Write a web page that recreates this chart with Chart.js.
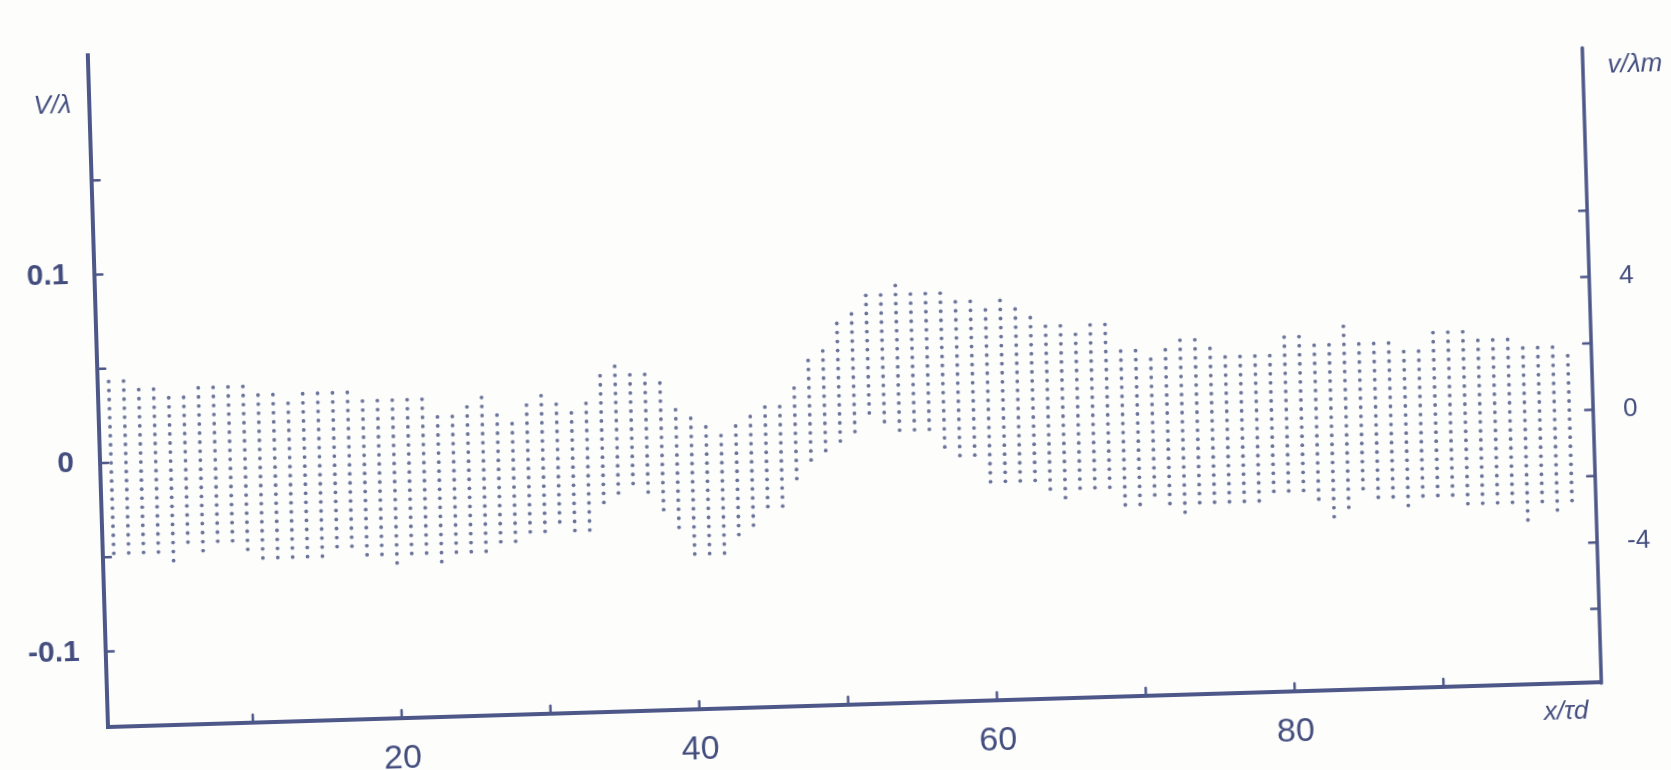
<!DOCTYPE html>
<html>
<head>
<meta charset="utf-8">
<script src="https://cdn.jsdelivr.net/npm/chart.js@4/dist/chart.umd.min.js"></script>
<style>
  html, body { margin: 0; padding: 0; width: 1671px; height: 770px; overflow: hidden; background: #fdfdfc; }
  #frame { position: absolute; left: 0; top: 0; width: 1720px; height: 800px;
           transform-origin: 108px 727px; transform: rotate(-1.72deg); }
  canvas { display: block; }
</style>
</head>
<body>
<div id="frame"><canvas id="chart" width="1720" height="800" style="width:1720px;height:800px"></canvas></div>
<script>
// Column positions along x/τd
const xPositions = [
  1, 2, 3, 4, 5, 6, 7, 8, 9, 10, 11, 12, 13, 14, 15, 16, 17, 18, 19, 20,
  21, 22, 23, 24, 25, 26, 27, 28, 29, 30, 31, 32, 33, 34, 35, 36, 37, 38, 39, 40,
  41, 42, 43, 44, 45, 46, 47, 48, 49, 50, 51, 52, 53, 54, 55, 56, 57, 58, 59, 60,
  61, 62, 63, 64, 65, 66, 67, 68, 69, 70, 71, 72, 73, 74, 75, 76, 77, 78, 79, 80,
  81, 82, 83, 84, 85, 86, 87, 88, 89, 90, 91, 92, 93, 94, 95, 96, 97, 98, 99
];

// Upper edge of the dotted band (V/λ)
const bandTop = [
  0.045, 0.044, 0.039, 0.039, 0.035, 0.035, 0.040, 0.040, 0.040, 0.040,
  0.035, 0.035, 0.031, 0.035, 0.035, 0.035, 0.035, 0.031, 0.030, 0.030,
  0.030, 0.030, 0.021, 0.021, 0.026, 0.030, 0.020, 0.016, 0.026, 0.030,
  0.025, 0.021, 0.026, 0.040, 0.045, 0.040, 0.039, 0.035, 0.020, 0.016,
  0.011, 0.006, 0.011, 0.015, 0.020, 0.020, 0.029, 0.044, 0.049, 0.063,
  0.068, 0.078, 0.078, 0.082, 0.078, 0.077, 0.077, 0.072, 0.072, 0.067,
  0.073, 0.068, 0.063, 0.058, 0.058, 0.053, 0.059, 0.058, 0.044, 0.044,
  0.039, 0.043, 0.049, 0.049, 0.044, 0.039, 0.039, 0.039, 0.039, 0.049,
  0.049, 0.044, 0.044, 0.054, 0.044, 0.044, 0.044, 0.039, 0.039, 0.049,
  0.049, 0.049, 0.044, 0.044, 0.044, 0.039, 0.039, 0.039, 0.035
];

// Lower edge of the dotted band (V/λ)
const bandBottom = [
  -0.047, -0.047, -0.048, -0.048, -0.052, -0.044, -0.047, -0.043, -0.045, -0.047,
  -0.052, -0.052, -0.053, -0.053, -0.051, -0.047, -0.047, -0.052, -0.052, -0.056,
  -0.052, -0.052, -0.057, -0.053, -0.053, -0.052, -0.047, -0.047, -0.042, -0.042,
  -0.037, -0.042, -0.042, -0.028, -0.023, -0.019, -0.023, -0.032, -0.042, -0.056,
  -0.056, -0.056, -0.047, -0.042, -0.032, -0.032, -0.017, -0.008, -0.004, 0.001,
  0.007, 0.015, 0.011, 0.006, 0.006, 0.005, -0.004, -0.008, -0.009, -0.023,
  -0.023, -0.024, -0.024, -0.028, -0.032, -0.028, -0.027, -0.028, -0.038, -0.038,
  -0.033, -0.037, -0.044, -0.037, -0.037, -0.037, -0.039, -0.037, -0.033, -0.033,
  -0.033, -0.037, -0.046, -0.042, -0.036, -0.037, -0.037, -0.042, -0.037, -0.037,
  -0.037, -0.042, -0.042, -0.042, -0.042, -0.052, -0.042, -0.047, -0.043
];

// Vertical spacing of the dot rows (V/λ)
const dotStep = 0.0048;

// Axis ticks and their labels
const xTicks = [10, 20, 30, 40, 50, 60, 70, 80, 90];
const xTickLabels = ['', '20', '', '40', '', '60', '', '80', ''];
const leftTicks = [-0.1, -0.05, 0, 0.05, 0.1, 0.15];
const leftTickLabels = ['-0.1', '', '0', '', '0.1', ''];
const rightTicks = [-6, -4, -2, 0, 2, 4, 6];
const rightTickLabels = ['', '-4', '', '0', '', '4', ''];

// Axis extents
const xRange = [0.26, 100.6];
const leftRange = [-0.14, 0.2165];
const rightRange = [-8.21, 12.03];
const rightAxisEnd = 10.9;

const axisColor = '#4d5788';
const textColor = '#444e7e';
const dotColor = 'rgba(82,90,136,0.85)';

// Build the dot grid of each column from its band edges
const dots = [];
xPositions.forEach((x, i) => {
  const n0 = Math.round(bandBottom[i] / dotStep);
  const n1 = Math.round(bandTop[i] / dotStep);
  for (let n = n0; n <= n1; n++) dots.push({ x: x, y: +(n * dotStep).toFixed(4) });
});

// Inward tick marks, the shorter right-hand axis line and the axis captions
const axisMarks = {
  id: 'axisMarks',
  afterDraw(chart) {
    const { ctx, chartArea: a, scales } = chart;
    const x = scales.x, y = scales.y, y1 = scales.y1;
    ctx.save();
    ctx.strokeStyle = axisColor;
    ctx.lineCap = 'round';
    ctx.lineWidth = 3.5;
    ctx.beginPath();
    ctx.moveTo(a.right, a.bottom + 1);
    ctx.lineTo(a.right, y1.getPixelForValue(rightAxisEnd));
    ctx.stroke();

    ctx.lineWidth = 2.5;
    ctx.beginPath();
    xTicks.forEach(v => { const p = x.getPixelForValue(v); ctx.moveTo(p, a.bottom); ctx.lineTo(p, a.bottom - 8); });
    leftTicks.forEach(v => { const p = y.getPixelForValue(v); ctx.moveTo(a.left, p); ctx.lineTo(a.left + 8, p); });
    rightTicks.forEach(v => { const p = y1.getPixelForValue(v); ctx.moveTo(a.right, p); ctx.lineTo(a.right - 8, p); });
    ctx.stroke();

    ctx.fillStyle = textColor;
    ctx.textAlign = 'center';
    ctx.textBaseline = 'middle';
    ctx.font = 'italic 26px "Liberation Sans", sans-serif';
    ctx.fillText('V/λ', a.left - 37, a.top + 50);
    ctx.fillText('v/λm', a.right + 52, a.top + 56);
    ctx.fillText('x/τd', a.right - 36, a.bottom + 29);
    ctx.restore();
  }
};

new Chart(document.getElementById('chart').getContext('2d'), {
  type: 'scatter',
  data: {
    datasets: [{
      data: dots,
      yAxisID: 'y',
      pointRadius: 1.9,
      pointBorderWidth: 0,
      pointBackgroundColor: dotColor,
      pointHoverRadius: 1.9
    }]
  },
  options: {
    responsive: false,
    animation: false,
    devicePixelRatio: 1,
    events: [],
    layout: { padding: { top: 55, left: 0, right: 0, bottom: 0 } },
    plugins: { legend: { display: false }, tooltip: { enabled: false } },
    scales: {
      x: {
        type: 'linear',
        position: 'bottom',
        min: xRange[0],
        max: xRange[1],
        clip: false,
        afterFit: s => { s.height = 73; },
        afterBuildTicks: s => { s.ticks = xTicks.map(v => ({ value: v })); },
        grid: { display: false },
        border: { display: true, color: axisColor, width: 4 },
        ticks: {
          autoSkip: false,
          maxRotation: 0,
          padding: 12,
          color: textColor,
          font: { family: '"Liberation Sans", sans-serif', size: 34 },
          callback: (v, i) => xTickLabels[i]
        }
      },
      y: {
        position: 'left',
        min: leftRange[0],
        max: leftRange[1],
        clip: false,
        afterFit: s => { s.width = 108; },
        afterBuildTicks: s => { s.ticks = leftTicks.map(v => ({ value: v })); },
        grid: { display: false },
        border: { display: true, color: axisColor, width: 4 },
        ticks: {
          autoSkip: false,
          padding: 18,
          color: textColor,
          font: { family: '"Liberation Sans", sans-serif', size: 30, weight: 'bold' },
          callback: (v, i) => leftTickLabels[i]
        }
      },
      y1: {
        position: 'right',
        min: rightRange[0],
        max: rightRange[1],
        clip: false,
        afterFit: s => { s.width = 118; },
        afterBuildTicks: s => { s.ticks = rightTicks.map(v => ({ value: v })); },
        grid: { display: false },
        border: { display: false },
        ticks: {
          autoSkip: false,
          padding: 22,
          color: textColor,
          font: { family: '"Liberation Sans", sans-serif', size: 26 },
          callback: (v, i) => rightTickLabels[i]
        }
      }
    }
  },
  plugins: [axisMarks]
});
</script>
</body>
</html>
